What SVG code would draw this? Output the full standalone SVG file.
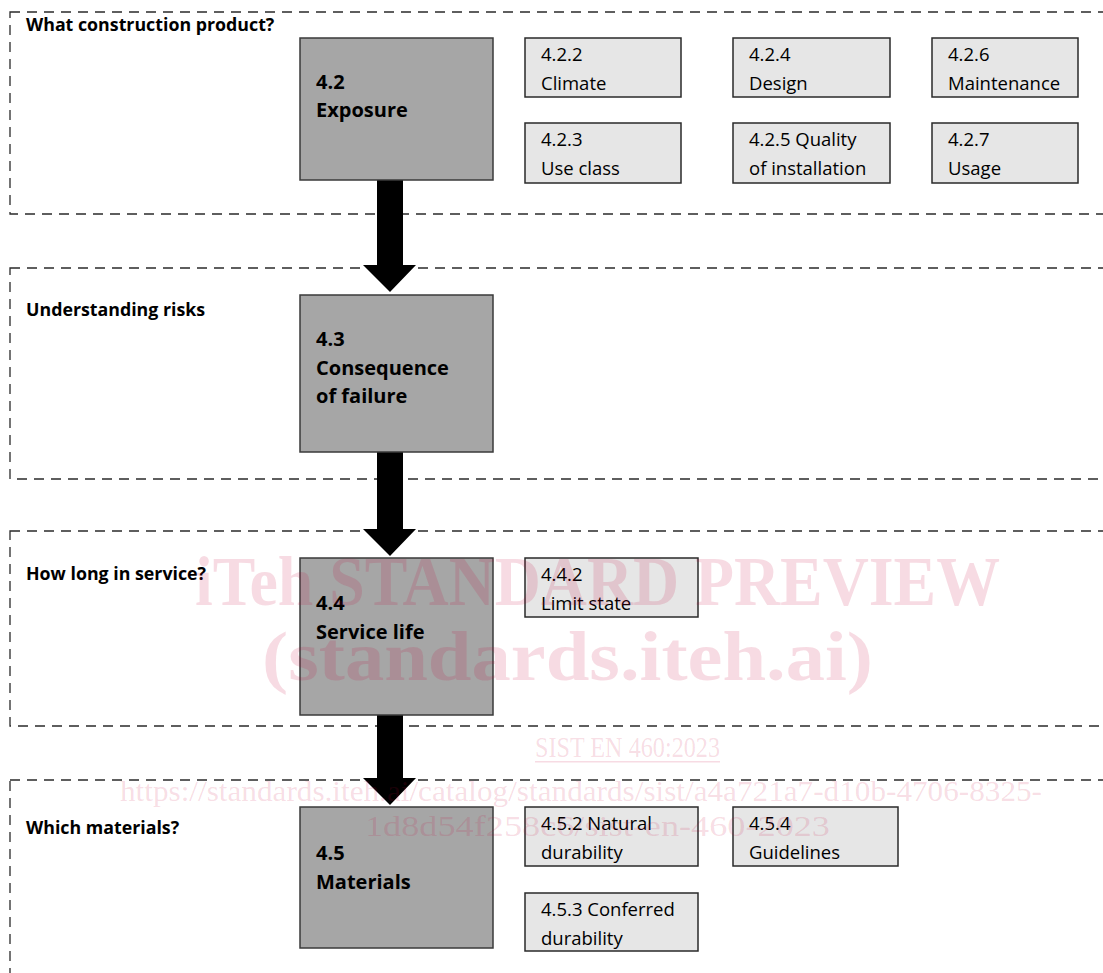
<svg xmlns="http://www.w3.org/2000/svg" width="1103" height="973" viewBox="0 0 1103 973">
<style>
.sec{fill:none;stroke:#2a2a2a;stroke-width:1.3;stroke-dasharray:10 7}
.main{fill:#a6a6a6;stroke:#3a3a3a;stroke-width:1.5}
.sub{fill:#e6e6e6;stroke:#2a2a2a;stroke-width:1.5}
.lbl{font-family:"Open Sans",sans-serif;font-weight:700;font-size:17.8px;fill:#000}
.mt{font-family:"Open Sans",sans-serif;font-weight:700;font-size:20px;fill:#000}
.st{font-family:"Open Sans",sans-serif;font-size:18.5px;fill:#000}
.arr{fill:#000}
.wm{font-family:"Liberation Serif",serif;fill:#c8003c;fill-opacity:0.14}
</style>
<rect width="1103" height="973" fill="#fff"/>
<g id="sections">
<rect class="sec" x="10" y="12" width="1110" height="202"/>
<rect class="sec" x="10" y="268" width="1110" height="211"/>
<rect class="sec" x="10" y="531" width="1110" height="195"/>
<rect class="sec" x="10" y="780" width="1110" height="230"/>
<text class="lbl" x="26" y="31">What construction product?</text>
<text class="lbl" x="26" y="316">Understanding risks</text>
<text class="lbl" x="26" y="580">How long in service?</text>
<text class="lbl" x="26" y="834">Which materials?</text>
</g>
<g id="connectors">
<polygon class="arr" points="377,180 403,180 403,265 416,265 390,292 363,265 377,265"/>
<polygon class="arr" points="377,452 403,452 403,529 416,529 390,556 363,529 377,529"/>
<polygon class="arr" points="377,715 403,715 403,778 416,778 390,805 363,778 377,778"/>
</g>
<g id="n42"><rect class="main" x="300" y="38" width="193" height="142"/><text class="mt" x="316" y="89">4.2</text><text class="mt" x="316" y="117">Exposure</text></g>
<g id="n43"><rect class="main" x="300" y="295" width="193" height="157"/><text class="mt" x="316" y="346">4.3</text><text class="mt" x="316" y="375">Consequence</text><text class="mt" x="316" y="403">of failure</text></g>
<g id="n44"><rect class="main" x="300" y="558" width="193" height="157"/><text class="mt" x="316" y="610">4.4</text><text class="mt" x="316" y="639">Service life</text></g>
<g id="n45"><rect class="main" x="300" y="807" width="193" height="141"/><text class="mt" x="316" y="860">4.5</text><text class="mt" x="316" y="889">Materials</text></g>
<g id="n422"><rect class="sub" x="525" y="38" width="156" height="59"/><text class="st" x="541" y="61">4.2.2</text><text class="st" x="541" y="90">Climate</text></g>
<g id="n424"><rect class="sub" x="733" y="38" width="157" height="59"/><text class="st" x="749" y="61">4.2.4</text><text class="st" x="749" y="90">Design</text></g>
<g id="n426"><rect class="sub" x="932" y="38" width="146" height="59"/><text class="st" x="948" y="61">4.2.6</text><text class="st" x="948" y="90">Maintenance</text></g>
<g id="n423"><rect class="sub" x="525" y="123" width="156" height="60"/><text class="st" x="541" y="146">4.2.3</text><text class="st" x="541" y="175">Use class</text></g>
<g id="n425"><rect class="sub" x="733" y="123" width="157" height="60"/><text class="st" x="749" y="146">4.2.5 Quality</text><text class="st" x="749" y="175">of installation</text></g>
<g id="n427"><rect class="sub" x="932" y="123" width="146" height="60"/><text class="st" x="948" y="146">4.2.7</text><text class="st" x="948" y="175">Usage</text></g>
<g id="n442"><rect class="sub" x="525" y="558" width="173" height="59"/><text class="st" x="541" y="581">4.4.2</text><text class="st" x="541" y="610">Limit state</text></g>
<g id="n452"><rect class="sub" x="525" y="807" width="173" height="59"/><text class="st" x="541" y="830">4.5.2 Natural</text><text class="st" x="541" y="859">durability</text></g>
<g id="n454"><rect class="sub" x="733" y="807" width="165" height="59"/><text class="st" x="749" y="830">4.5.4</text><text class="st" x="749" y="859">Guidelines</text></g>
<g id="n453"><rect class="sub" x="525" y="893" width="173" height="58"/><text class="st" x="541" y="916">4.5.3 Conferred</text><text class="st" x="541" y="945">durability</text></g>
<g id="watermark">
<text class="wm" x="195" y="605" font-size="70" font-weight="700" textLength="805" lengthAdjust="spacingAndGlyphs">iTeh STANDARD PREVIEW</text>
<text class="wm" x="262" y="680" font-size="70" font-weight="700" textLength="611" lengthAdjust="spacingAndGlyphs">(standards.iteh.ai)</text>
<text class="wm" x="535" y="757" font-size="30" textLength="185" lengthAdjust="spacingAndGlyphs">SIST EN 460:2023</text>
<rect x="535" y="761" width="185" height="1.5" fill="#c8003c" fill-opacity="0.14"/>
<text class="wm" x="120" y="801" font-size="30" textLength="922" lengthAdjust="spacingAndGlyphs">https://standards.iteh.ai/catalog/standards/sist/a4a721a7-d10b-4706-8325-</text>
<text class="wm" x="365" y="836" font-size="30" textLength="465" lengthAdjust="spacingAndGlyphs">1d8d54f258c6/sist-en-460-2023</text>
</g>
</svg>
